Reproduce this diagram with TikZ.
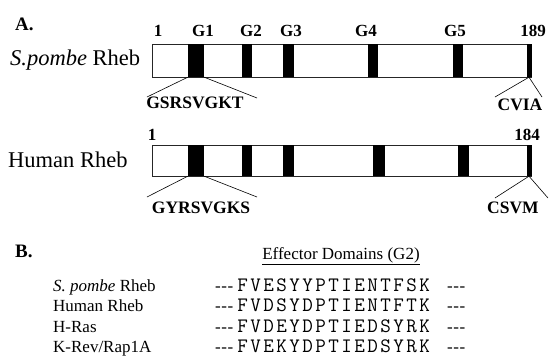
\documentclass[tikz,border=0pt]{standalone}
\usepackage{fontspec}
\setmainfont{Liberation Serif}
% three separate hyphens, kept apart so they do not merge into a dash
\newcommand{\trihy}{-\kern0.6pt-\kern0.6pt-}
% set a residue string with a fixed pitch per letter
\makeatletter
\newcommand{\respitch}[1]{\res@step#1\relax}
\def\res@step#1{\ifx#1\relax\else\makebox[13pt][c]{#1}\expandafter\res@step\fi}
\makeatother
\begin{document}
\begin{tikzpicture}[x=1pt,y=-1pt,
  txt/.style={inner sep=0pt, anchor=base},
  panel/.style={txt, anchor=base west, font=\fontsize{19}{21}\selectfont\bfseries},
  species/.style={txt, anchor=base west, font=\fontsize{22.5}{25}\selectfont},
  posn/.style={txt, font=\fontsize{17}{19}\selectfont\bfseries},
  motif/.style={txt, font=\fontsize{17.5}{20}\selectfont\bfseries},
  protein/.style={draw=black!85, line width=0.8pt, fill=white, inner sep=0pt, minimum width=379pt},
  bar/.style={fill=black, inner sep=0pt},
  link/.style={line width=0.6pt},
  rowlbl/.style={txt, anchor=base west, font=\fontsize{17}{20}\selectfont},
  seq/.style={txt, anchor=base west, font=\fontsize{20.5}{22}\selectfont\ttfamily},
]
\useasboundingbox (0,0) rectangle (550,357);

% ---------- panel A ----------
\node[panel] (pa) at (15,30) {A.};

% S. pombe Rheb
\node[species] (spA) at (10,65) {\textit{S.pombe} Rheb};
\node[protein, minimum height=33pt] (boxA) at (341.5,60.5) {};
\node[bar, minimum width=16pt, minimum height=33pt] (a1) at (196,60.5) {};
\node[bar, minimum width=10pt, minimum height=33pt] (a2) at (247,60.5) {};
\node[bar, minimum width=11pt, minimum height=33pt] (a3) at (288.5,60.5) {};
\node[bar, minimum width=10pt, minimum height=33pt] (a4) at (373,60.5) {};
\node[bar, minimum width=10pt, minimum height=33pt] (a5) at (458,60.5) {};
\node[bar, minimum width=5pt, minimum height=33pt] (a6) at (529,60.5) {};

\node[posn] (nA1) at (158,36) {1};
\node[posn] (lg1) at (203,36) {G1};
\node[posn] (lg2) at (251,36) {G2};
\node[posn] (lg3) at (291,36) {G3};
\node[posn] (lg4) at (366,36) {G4};
\node[posn] (lg5) at (455,36) {G5};
\node[posn] (nA2) at (533,36) {189};

\node[motif] (mA) at (195,108) {GSRSVGKT};
\node[motif] (cA) at (520,110) {CVIA};
\coordinate (mAl) at (147,97);
\coordinate (mAr) at (257,98);
\coordinate (cAl) at (495,97);
\coordinate (cAr) at (542,97);
\draw[link] (a1.south west) -- (mAl);
\draw[link] (a1.south east) -- (mAr);
\draw[link] (a6.south) -- (cAl);
\draw[link] (a6.south) -- (cAr);

% Human Rheb
\node[species] (hB) at (8,167) {Human Rheb};
\node[protein, minimum height=31pt] (boxB) at (341.5,160.5) {};
\node[bar, minimum width=16pt, minimum height=31pt] (b1) at (196,160.5) {};
\node[bar, minimum width=10pt, minimum height=31pt] (b2) at (247,160.5) {};
\node[bar, minimum width=11pt, minimum height=31pt] (b3) at (288.5,160.5) {};
\node[bar, minimum width=12pt, minimum height=31pt] (b4) at (379,160.5) {};
\node[bar, minimum width=11pt, minimum height=31pt] (b5) at (463.5,160.5) {};
\node[bar, minimum width=5pt, minimum height=31pt] (b6) at (529,160.5) {};

\node[posn] (nB1) at (152,140) {1};
\node[posn] (nB2) at (527,140) {184};

\node[motif] (mB) at (201,213) {GYRSVGKS};
\node[motif] (cB) at (513,213) {CSVM};
\coordinate (mBl) at (147,197);
\coordinate (mBr) at (257,197);
\coordinate (cBl) at (495,198);
\coordinate (cBr) at (548,198);
\draw[link] (b1.south west) -- (mBl);
\draw[link] (b1.south east) -- (mBr);
\draw[link] (b6.south) -- (cBl);
\draw[link] (b6.south) -- (cBr);

% ---------- panel B ----------
\node[panel] (pb) at (15,257) {B.};
\node[txt, font=\fontsize{17}{20}\selectfont] (eff) at (341,259) {\underline{Effector Domains (G2)}};

\foreach \name/\lab/\s/\yy in {
    r1/{\textit{S. pombe} Rheb}/FVESYYPTIENTFSK/291,
    r2/{Human Rheb}/FVDSYDPTIENTFTK/311.5,
    r3/{H-Ras}/FVDEYDPTIEDSYRK/332,
    r4/{K-Rev/Rap1A}/FVEKYDPTIEDSYRK/352.5} {
  \node[rowlbl] (\name l) at (53,\yy) {\lab};
  \node[rowlbl] (\name d) at (215,\yy) {\trihy};
  \node[seq] (\name s) at (236,\yy) {\expandafter\respitch\expandafter{\s}};
  \node[rowlbl] (\name e) at (447,\yy) {\trihy};
}
\end{tikzpicture}
\end{document}
